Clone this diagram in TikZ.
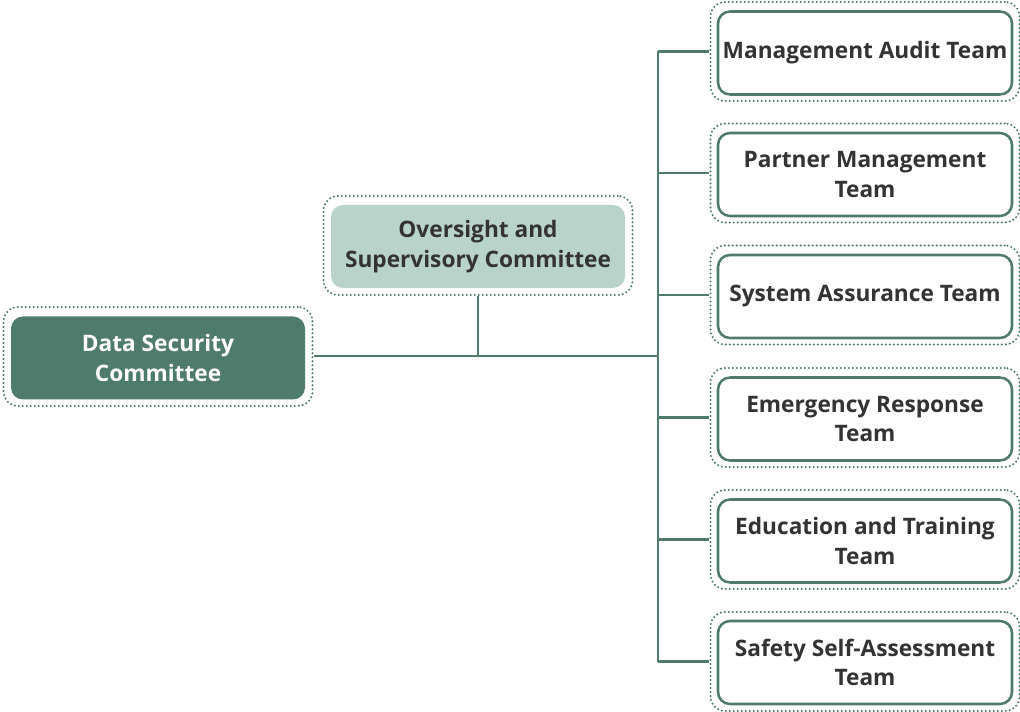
\documentclass[tikz,border=0pt]{standalone}
\usepackage{fontspec}
\setmainfont{Open Sans}
\usepackage{tikz}

\definecolor{darkgreen}{HTML}{4E7B6B}
\definecolor{palegreen}{HTML}{B8D4CA}
\definecolor{textgray}{HTML}{333333}

\tikzset{
  box/.style={rounded corners=9, minimum width=294*0.75pt, minimum height=83*0.75pt,
    align=center, font=\bfseries\fontsize{17}{22}\selectfont, inner sep=0pt},
  mainbox/.style={box, fill=darkgreen, text=white},
  topbox/.style={box, fill=palegreen, text=textgray},
  teambox/.style={box, draw=darkgreen, line width=1.9pt, fill=white, text=textgray},
  halo/.style={rounded corners=11, minimum width=309*0.75pt, minimum height=99*0.75pt,
    draw=darkgreen, line width=1.7pt, line cap=round, dash pattern=on 0pt off 3pt, inner sep=0pt},
  link/.style={draw=darkgreen, line width=1.9pt}
}

\begin{document}
\begin{tikzpicture}[x=0.75pt,y=-0.75pt]
\useasboundingbox (0,0) rectangle (1020,712);

% committees
\node[halo] (dscout) at (158,356.5) {};
\node[mainbox] (dsc) at (158,358) {Data Security\\Committee};
\node[halo] (oscout) at (478,245.5) {};
\node[topbox] (osc) at (478,246.5) {Oversight and\\Supervisory Committee};

% teams
\node[halo] (t1out) at (865,51.5) {};
\node[teambox] (t1) at (865,53) {Management Audit Team};
\node[halo] (t2out) at (865,173) {};
\node[teambox] (t2) at (865,174.5) {Partner Management\\Team};
\node[halo] (t3out) at (865,295) {};
\node[teambox] (t3) at (865,296.5) {System Assurance Team};
\node[halo] (t4out) at (865,417.5) {};
\node[teambox] (t4) at (865,419) {Emergency Response\\Team};
\node[halo] (t5out) at (865,539.5) {};
\node[teambox] (t5) at (865,541) {Education and Training\\Team};
\node[halo] (t6out) at (865,661.5) {};
\node[teambox] (t6) at (865,662.5) {Safety Self-Assessment\\Team};

% connectors
\coordinate (trunk) at (658,356);
\draw[link] (dscout.east |- trunk) -- (trunk);
\draw[link] (oscout.south) -- (oscout.south |- trunk);
\draw[link] (trunk |- t1out.west) -- (trunk |- t6out.west);
\foreach \t in {t1,t2,t3,t4,t5,t6}
  \draw[link] (trunk |- \t out.west) -- (\t out.west);
\end{tikzpicture}
\end{document}
